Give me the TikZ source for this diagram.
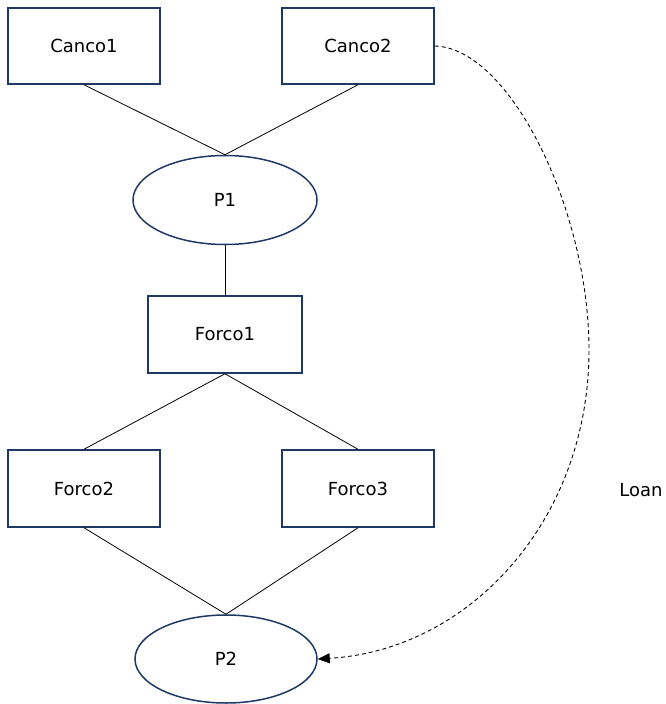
\documentclass[tikz,border=0pt]{standalone}
\usepackage{fontspec}
\setmainfont{DejaVu Sans}
\usetikzlibrary{shapes.geometric,arrows.meta}
\definecolor{navy}{HTML}{1F3864}
\begin{document}
\begin{tikzpicture}[x=1pt,y=-1pt,
  lbl/.style={font=\fontsize{18}{21}\selectfont},
  box/.style={lbl,draw=navy,line width=1.5pt,minimum width=152pt,minimum height=76pt,inner sep=0pt},
  ell/.style={lbl,ellipse,draw=navy,line width=1.5pt,minimum width=184pt,minimum height=89pt,inner sep=0pt},
  link/.style={draw=black,line width=0.8pt},
  loan/.style={draw=black,line width=0.9pt,dash pattern=on 4pt off 3pt,-{Triangle[length=12pt,width=10pt]}}]
\useasboundingbox (0,0) rectangle (666,704);
\node[box] (c1) at (84,46) {Canco1};
\node[box] (c2) at (358,46) {Canco2};
\node[ell] (p1) at (225,200) {P1};
\node[box,minimum width=154pt,minimum height=77pt] (f1) at (225,334.5) {Forco1};
\node[box,minimum height=77pt] (f2) at (84,488.5) {Forco2};
\node[box,minimum height=77pt] (f3) at (358,488.5) {Forco3};
\node[ell,minimum width=182pt,minimum height=88pt] (p2) at (226,659) {P2};
\node[lbl] (loan) at (641,490) {Loan};
\coordinate (bend) at (589,350);
\draw[link] (c1.south) -- (p1.north);
\draw[link] (c2.south) -- (p1.north);
\draw[link] (p1.south) -- (f1.north);
\draw[link] (f1.south) -- (f2.north);
\draw[link] (f1.south) -- (f3.north);
\draw[link] (f2.south) -- (p2.north);
\draw[link] (f3.south) -- (p2.north);
\draw[loan] (c2.east) .. controls (510,48) and (589,210) .. (bend)
  .. controls (589,520) and (470,650) .. (p2.east);
\end{tikzpicture}
\end{document}
